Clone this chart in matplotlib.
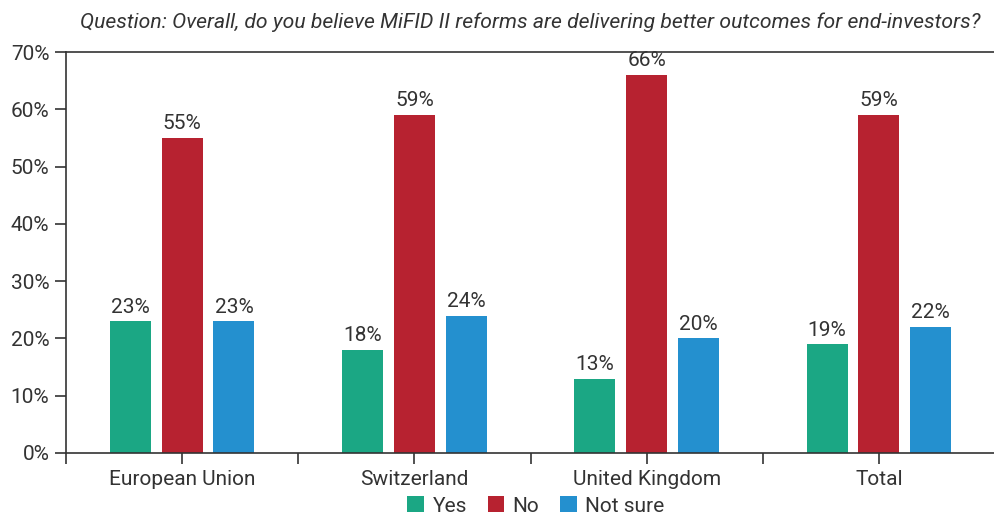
import numpy as np
import matplotlib.pyplot as plt

plt.rcParams['font.family'] = ['Roboto', 'DejaVu Sans']

categories = ["European Union", "Switzerland", "United Kingdom", "Total"]
series = ["Yes", "No", "Not sure"]
yes = [23, 18, 13, 19]
no = [55, 59, 66, 59]
not_sure = [23, 24, 20, 22]
colors = ["#1ba784", "#b72230", "#2490cf"]
question = "Question: Overall, do you believe MiFID II reforms are delivering better outcomes for end-investors?"

txt = "#333333"
fs = 15
fig = plt.figure(figsize=(9.95, 5.14), dpi=100)
ax = fig.add_axes([66/995, 61/514, 1 - 66/995, 401/514])

x = np.arange(len(categories))
offs = [-0.223, 0, 0.223]
for vals, off, col, name in zip([yes, no, not_sure], offs, colors, series):
    bars = ax.bar(x + off, vals, width=0.176, color=col, label=name)
    for b, v in zip(bars, vals):
        ax.text(b.get_x() + b.get_width()/2, v + 0.8, f"{v}%", ha="center", va="bottom",
                fontsize=fs, color=txt)

ax.set_xlim(-0.5, 3.5)
ax.set_ylim(0, 70)
ax.set_yticks(range(0, 71, 10))
ax.set_yticklabels([f"{t}%" for t in range(0, 71, 10)], fontsize=fs, color=txt)
ax.set_xticks(x)
ax.set_xticklabels(categories, fontsize=fs, color=txt)
ax.set_xticks(np.arange(-0.5, 3.6, 1.0), minor=True)
ax.tick_params(axis="x", which="both", length=8, width=1.2, color=txt, direction="out", pad=4)
ax.tick_params(axis="y", length=8, width=1.2, color=txt, direction="out", pad=4)
ax.spines["right"].set_visible(False)
for s in ["left", "bottom", "top"]:
    ax.spines[s].set_color(txt)
    ax.spines[s].set_linewidth(1.2)

fig.text(0.985, 0.957, question, ha="right", va="center", fontsize=15.2, style="italic", color=txt)

ax.legend(loc="center", bbox_to_anchor=(536/995, 8/514), bbox_transform=fig.transFigure,
          ncol=3, frameon=False, fontsize=fs, handlelength=0.8, handleheight=0.8,
          handletextpad=0.4, columnspacing=1.0, labelcolor=txt)

fig.savefig("out.png", dpi=100)
